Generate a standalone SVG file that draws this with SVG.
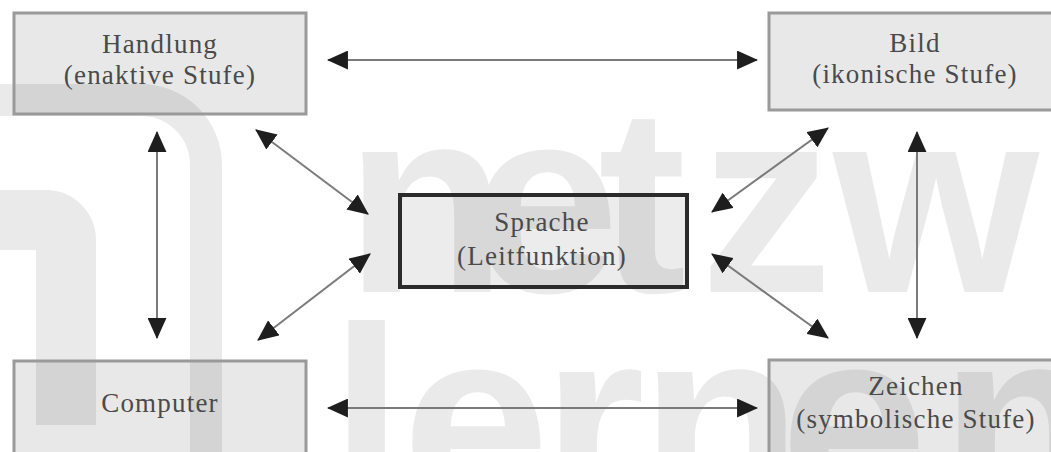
<svg xmlns="http://www.w3.org/2000/svg" width="1051" height="452" viewBox="0 0 1051 452">
  <defs>
    <marker id="head" viewBox="0 0 20 18" refX="19" refY="9" markerWidth="21" markerHeight="19" markerUnits="userSpaceOnUse" orient="auto-start-reverse">
      <path d="M0,0 L20,9 L0,18 Z" fill="#1e1e1e"/>
    </marker>
  </defs>
  <style>
    .mark { fill: #eaeaea; }
    .markline { fill: none; stroke: #eaeaea; }
    .box { fill: #000; fill-opacity: 0.09; stroke: #9a9a9a; stroke-width: 3; }
    .lead { fill: #000; fill-opacity: 0.075; stroke: #2b2b2b; stroke-width: 4; }
    .label { font-family: "Liberation Serif", "Times New Roman", serif; font-size: 27px; letter-spacing: 1.2px; fill: #4a4a4a; text-anchor: middle; }
    .link { fill: none; stroke: #7a7a7a; stroke-width: 2; marker-start: url(#head); marker-end: url(#head); }
  </style>

  <rect width="1051" height="452" fill="#ffffff"/>

  <!-- background logo and lettering -->
  <g id="backdrop">
    <path class="markline" stroke-width="32" d="M-20,100 H141 A65,65 0 0 1 206,165 V470"/>
    <path class="markline" stroke-width="60" d="M-20,220 H46 A20,20 0 0 1 66,240 V425"/>
    <text class="mark" font-family="Liberation Sans, Arial, sans-serif" font-weight="bold" font-size="265" x="345 472 598 700 833" y="292">netzw</text>
    <text class="mark" font-family="Liberation Sans, Arial, sans-serif" font-weight="bold" font-size="265" x="330 402 542 640 780 940" y="512">lernen</text>
  </g>

  <g id="connectors">
    <line class="link" x1="328" y1="60" x2="757" y2="60"/>
    <line class="link" x1="328" y1="408" x2="757" y2="408"/>
    <line class="link" x1="157" y1="132" x2="157" y2="338"/>
    <line class="link" x1="917" y1="132" x2="917" y2="338"/>
    <line class="link" x1="256" y1="130" x2="368" y2="214"/>
    <line class="link" x1="258" y1="340" x2="370" y2="254"/>
    <line class="link" x1="828" y1="128" x2="712" y2="212"/>
    <line class="link" x1="712" y1="254" x2="828" y2="338"/>
  </g>

  <g id="handlung">
    <rect class="box" x="14" y="13" width="292" height="101"/>
    <text class="label" x="160" y="53">Handlung</text>
    <text class="label" x="160" y="84">(enaktive Stufe)</text>
  </g>

  <g id="bild">
    <rect class="box" x="769" y="13" width="300" height="97"/>
    <text class="label" x="915" y="52">Bild</text>
    <text class="label" x="915" y="83">(ikonische Stufe)</text>
  </g>

  <g id="sprache">
    <rect class="lead" x="400" y="195" width="287" height="92"/>
    <text class="label" x="542" y="231">Sprache</text>
    <text class="label" x="542" y="265">(Leitfunktion)</text>
  </g>

  <g id="computer">
    <rect class="box" x="14" y="361" width="292" height="120"/>
    <text class="label" x="160" y="412">Computer</text>
  </g>

  <g id="zeichen">
    <rect class="box" x="769" y="360" width="300" height="120"/>
    <text class="label" x="916" y="395">Zeichen</text>
    <text class="label" x="916" y="428">(symbolische Stufe)</text>
  </g>
</svg>
